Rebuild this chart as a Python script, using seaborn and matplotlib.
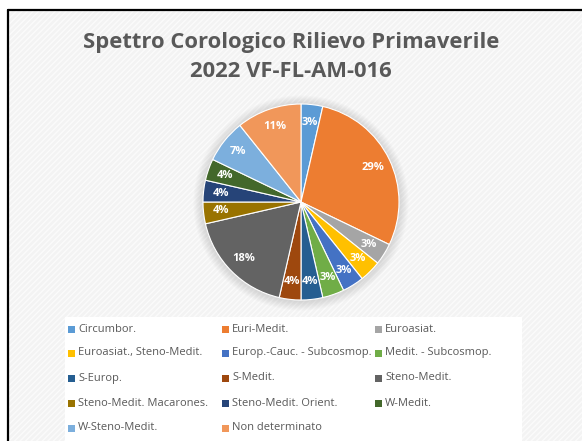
import matplotlib
matplotlib.use("Agg")
import matplotlib.pyplot as plt
import seaborn as sns
from matplotlib.patches import Rectangle, Circle
from matplotlib.lines import Line2D

sns.set_theme(style="white")
plt.rcParams['font.family'] = ['Open Sans', 'DejaVu Sans']

# data: number of species per chorotype (28 in total)
categories = ['Circumbor.', 'Euri-Medit.', 'Euroasiat.', 'Euroasiat., Steno-Medit.',
              'Europ.-Cauc. - Subcosmop.', 'Medit. - Subcosmop.', 'S-Europ.', 'S-Medit.',
              'Steno-Medit.', 'Steno-Medit. Macarones.', 'Steno-Medit. Orient.', 'W-Medit.',
              'W-Steno-Medit.', 'Non determinato']
counts = [1, 8, 1, 1, 1, 1, 1, 1, 5, 1, 1, 1, 2, 3]
# percentages as Excel printed them (rounded so they add up to 100)
pct_labels = ['3%', '29%', '3%', '3%', '3%', '3%', '4%', '4%', '18%', '4%', '4%', '4%', '7%', '11%']
colors = sns.color_palette(['#5B9BD5', '#ED7D31', '#A5A5A5', '#FFC000', '#4472C4', '#70AD47',
                            '#255E91', '#9E480E', '#636363', '#997300', '#264478', '#43682B',
                            '#7CAFDD', '#F1975A'])
title = 'Spettro Corologico Rilievo Primaverile\n2022 VF-FL-AM-016'

W, H = 582, 441
fig = plt.figure(figsize=(W / 100, H / 100), dpi=100)
fig.patch.set_facecolor('white')

# chart area background with faint diagonal texture
bg = Rectangle((8 / W, 0), 1, 1 - 11 / H, transform=fig.transFigure, facecolor='#f3f3f3',
               edgecolor='#fbfbfb', hatch='//////', linewidth=0, zorder=0)
fig.patches.append(bg)
fig.lines.append(Line2D([8 / W, 8 / W], [0, 1 - 10 / H], transform=fig.transFigure, color='black', lw=1.6))
fig.lines.append(Line2D([8 / W, 1], [1 - 10 / H, 1 - 10 / H], transform=fig.transFigure, color='black', lw=1.6))

fig.text(0.5, 1 - 57 / H, title, ha='center', va='center', fontsize=15.8, fontweight='bold',
         color='#595959', linespacing=1.55)

# pie
lim = 1.12
r_px = 98
cx, cy = 301, 202
size = 2 * lim * r_px
ax = fig.add_axes([(cx - size / 2) / W, (H - cy - size / 2) / H, size / W, size / H])
ax.set_zorder(5)
ax.patch.set_visible(False)
ax.set_aspect('equal')
ax.axis('off')
# soft shadow around the pie
for i in range(8):
    ax.add_patch(Circle((0, -0.01), 1.0 + 0.012 * (i + 1), facecolor='#888888', alpha=0.035,
                        edgecolor='none', zorder=0))
wedges, texts = ax.pie(counts, colors=colors, startangle=90, counterclock=False,
                       labels=pct_labels, labeldistance=0.82,
                       wedgeprops=dict(edgecolor='white', linewidth=0.8),
                       textprops=dict(color='white', fontsize=8, fontweight='bold'))
for t in texts:
    t.set_horizontalalignment('center')
    t.set_verticalalignment('center')
ax.set_xlim(-lim, lim)
ax.set_ylim(-lim, lim)

# legend laid out like the Excel one: 3 columns, filled row by row
fig.patches.append(Rectangle((65 / W, 0), (522 - 65) / W, (H - 317) / H, transform=fig.transFigure,
                             facecolor='white', edgecolor='none', zorder=1))
col_x = [68, 222, 375]
row_y = [329, 353, 378, 403, 428]
for i, (lab, c) in enumerate(zip(categories, colors)):
    x = col_x[i % 3]
    y = row_y[i // 3]
    fig.patches.append(Rectangle((x / W, (H - y - 3.5) / H), 7 / W, 7 / H, transform=fig.transFigure,
                                 facecolor=c, edgecolor='none', zorder=2))
    fig.text((x + 10) / W, (H - y) / H, lab, ha='left', va='center', fontsize=8, color='#595959')

fig.savefig('out.png', dpi=100)
